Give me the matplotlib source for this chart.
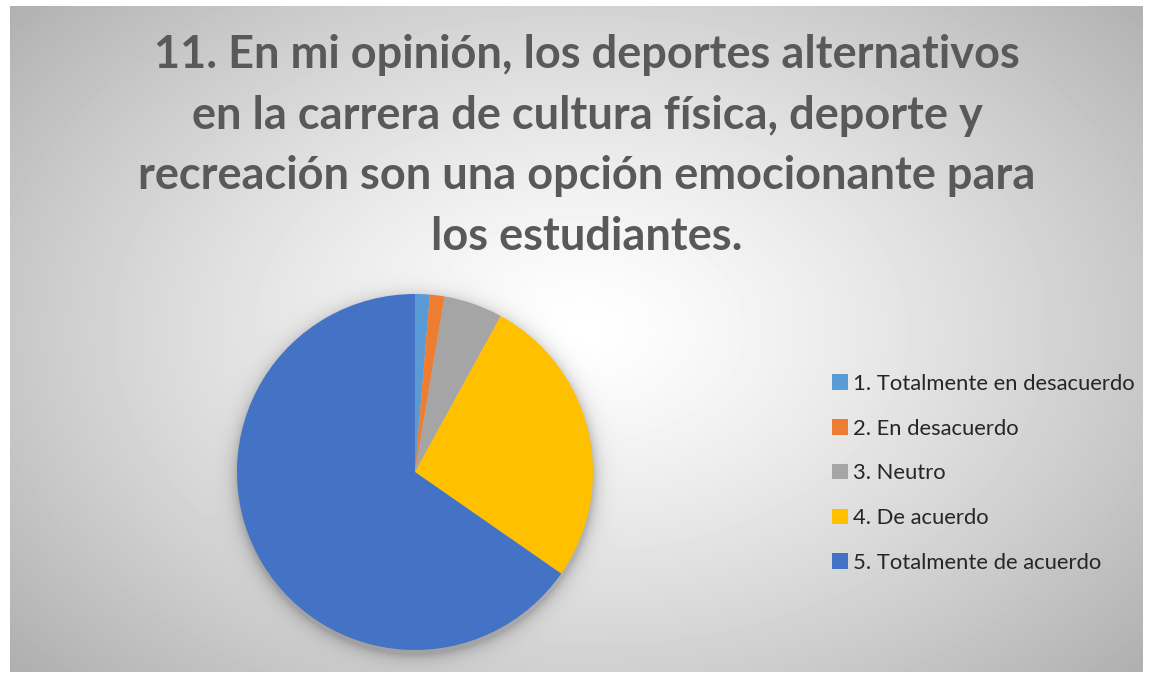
import numpy as np
import matplotlib.pyplot as plt

labels = ['1. Totalmente en desacuerdo', '2. En desacuerdo', '3. Neutro',
          '4. De acuerdo', '5. Totalmente de acuerdo']
counts = [1, 1, 4, 20, 49]
colors = ['#5B9BD5', '#ED7D31', '#A5A5A5', '#FFC000', '#4472C4']
title = ('11. En mi opinión, los deportes alternativos\n'
         'en la carrera de cultura física, deporte y\n'
         'recreación son una opción emocionante para\n'
         'los estudiantes.')

W, H = 1149, 673
fig = plt.figure(figsize=(W / 100, H / 100), dpi=100, facecolor='white')

# radial grey background with soft shadow under the pie
x0, x1, y0, y1 = 10, 1143, 6, 672
xx, yy = np.meshgrid(np.arange(x0, x1), np.arange(y0, y1))
r = np.sqrt(((xx - 580) / 620) ** 2 + ((yy - 330) / 420) ** 2)
val = 255 - 62 * np.clip(r, 0, 1.3) ** 1.3
d = np.sqrt((xx - 415) ** 2 + (yy - 476) ** 2) - 178
shade = np.where(d > 0, 0.22 * np.exp(-d / 7.0), 0.22)
val = val * (1 - shade)
bg = fig.add_axes([x0 / W, 1 - y1 / H, (x1 - x0) / W, (y1 - y0) / H])
bg.imshow(val, cmap='gray', vmin=0, vmax=255, aspect='auto', interpolation='bilinear')
bg.axis('off')

cx, cy, rad = 415, 472, 178
ax = fig.add_axes([(cx - rad) / W, 1 - (cy + rad) / H, 2 * rad / W, 2 * rad / H])
wedges, _ = ax.pie(counts, colors=colors, startangle=90, counterclock=False,
                   radius=1, wedgeprops=dict(linewidth=0))
ax.set_xlim(-1, 1)
ax.set_ylim(-1, 1)
ax.set_aspect('equal')
ax.axis('off')

fig.text(587 / W, 1 - 34 / H, title, ha='center', va='top', family='Lato',
         fontweight='bold', fontsize=32.5, color='#595959', linespacing=1.55)

fig.legend(wedges, labels, loc='upper left', bbox_to_anchor=(812 / W, 1 - 354 / H),
           frameon=False, prop={'family': 'Lato', 'size': 15.8}, labelcolor='#262626',
           handlelength=0.72, handleheight=0.72, handletextpad=0.25, labelspacing=1.13)

fig.savefig('out.png', dpi=100)
